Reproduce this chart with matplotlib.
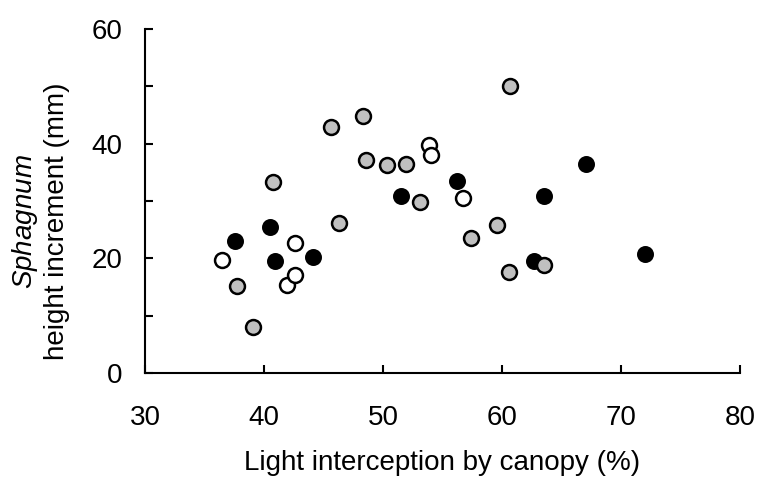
import matplotlib
matplotlib.use("Agg")
import matplotlib.pyplot as plt

plt.rcParams['font.family'] = ['Liberation Sans', 'DejaVu Sans']
plt.rcParams['mathtext.fontset'] = 'custom'
plt.rcParams['mathtext.it'] = 'Liberation Sans:italic'
plt.rcParams['mathtext.rm'] = 'Liberation Sans'

# black (filled) points
black_x = [37.6, 40.5, 40.9, 44.1, 51.5, 56.2, 62.7, 63.5, 67.1, 72.0]
black_y = [23.1, 25.4, 19.5, 20.2, 30.8, 33.5, 19.5, 30.9, 36.5, 20.7]

# open (white) points
open_x = [36.5, 41.9, 42.6, 42.6, 53.9, 54.0, 56.7]
open_y = [19.8, 15.4, 17.1, 22.7, 39.8, 38.1, 30.6]

# grey points
grey_x = [37.7, 39.1, 40.8, 45.6, 46.3, 48.3, 48.6, 50.3, 51.9, 53.1, 57.4, 59.6, 60.6, 60.7, 63.5]
grey_y = [15.1, 8.0, 33.3, 42.9, 26.1, 44.9, 37.2, 36.3, 36.5, 29.9, 23.5, 25.9, 17.7, 50.1, 18.8]

fig = plt.figure(figsize=(7.57, 4.78), dpi=100)
ax = fig.add_axes([0.1915, 0.2197, 0.786, 0.7193])

ms = 115
ax.scatter(black_x, black_y, s=ms, c='black', edgecolors='black', linewidths=1.5, zorder=3)
ax.scatter(open_x, open_y, s=ms, c='white', edgecolors='black', linewidths=1.8, zorder=3)
ax.scatter(grey_x, grey_y, s=ms, c='#c0c0c0', edgecolors='black', linewidths=1.8, zorder=4)

ax.set_xlim(30, 80)
ax.set_ylim(0, 60)
ax.set_xticks([30, 40, 50, 60, 70, 80])
ax.set_yticks([0, 20, 40, 60])
ax.set_yticks([10, 30, 50], minor=True)

for s in ['top', 'right']:
    ax.spines[s].set_visible(False)
for s in ['left', 'bottom']:
    ax.spines[s].set_linewidth(1.5)

ax.tick_params(axis='both', which='both', direction='in', width=1.5, length=6, labelsize=20)
ax.tick_params(axis='y', pad=16)
ax.tick_params(axis='x', pad=23)

ax.set_xlabel("Light interception by canopy (%)", fontsize=20, labelpad=14)
ax.set_ylabel("$\\it{Sphagnum}$\nheight increment (mm)", fontsize=20, linespacing=1.2)
ax.yaxis.set_label_coords(-0.126, 0.44)

fig.savefig("out.png", dpi=100)
